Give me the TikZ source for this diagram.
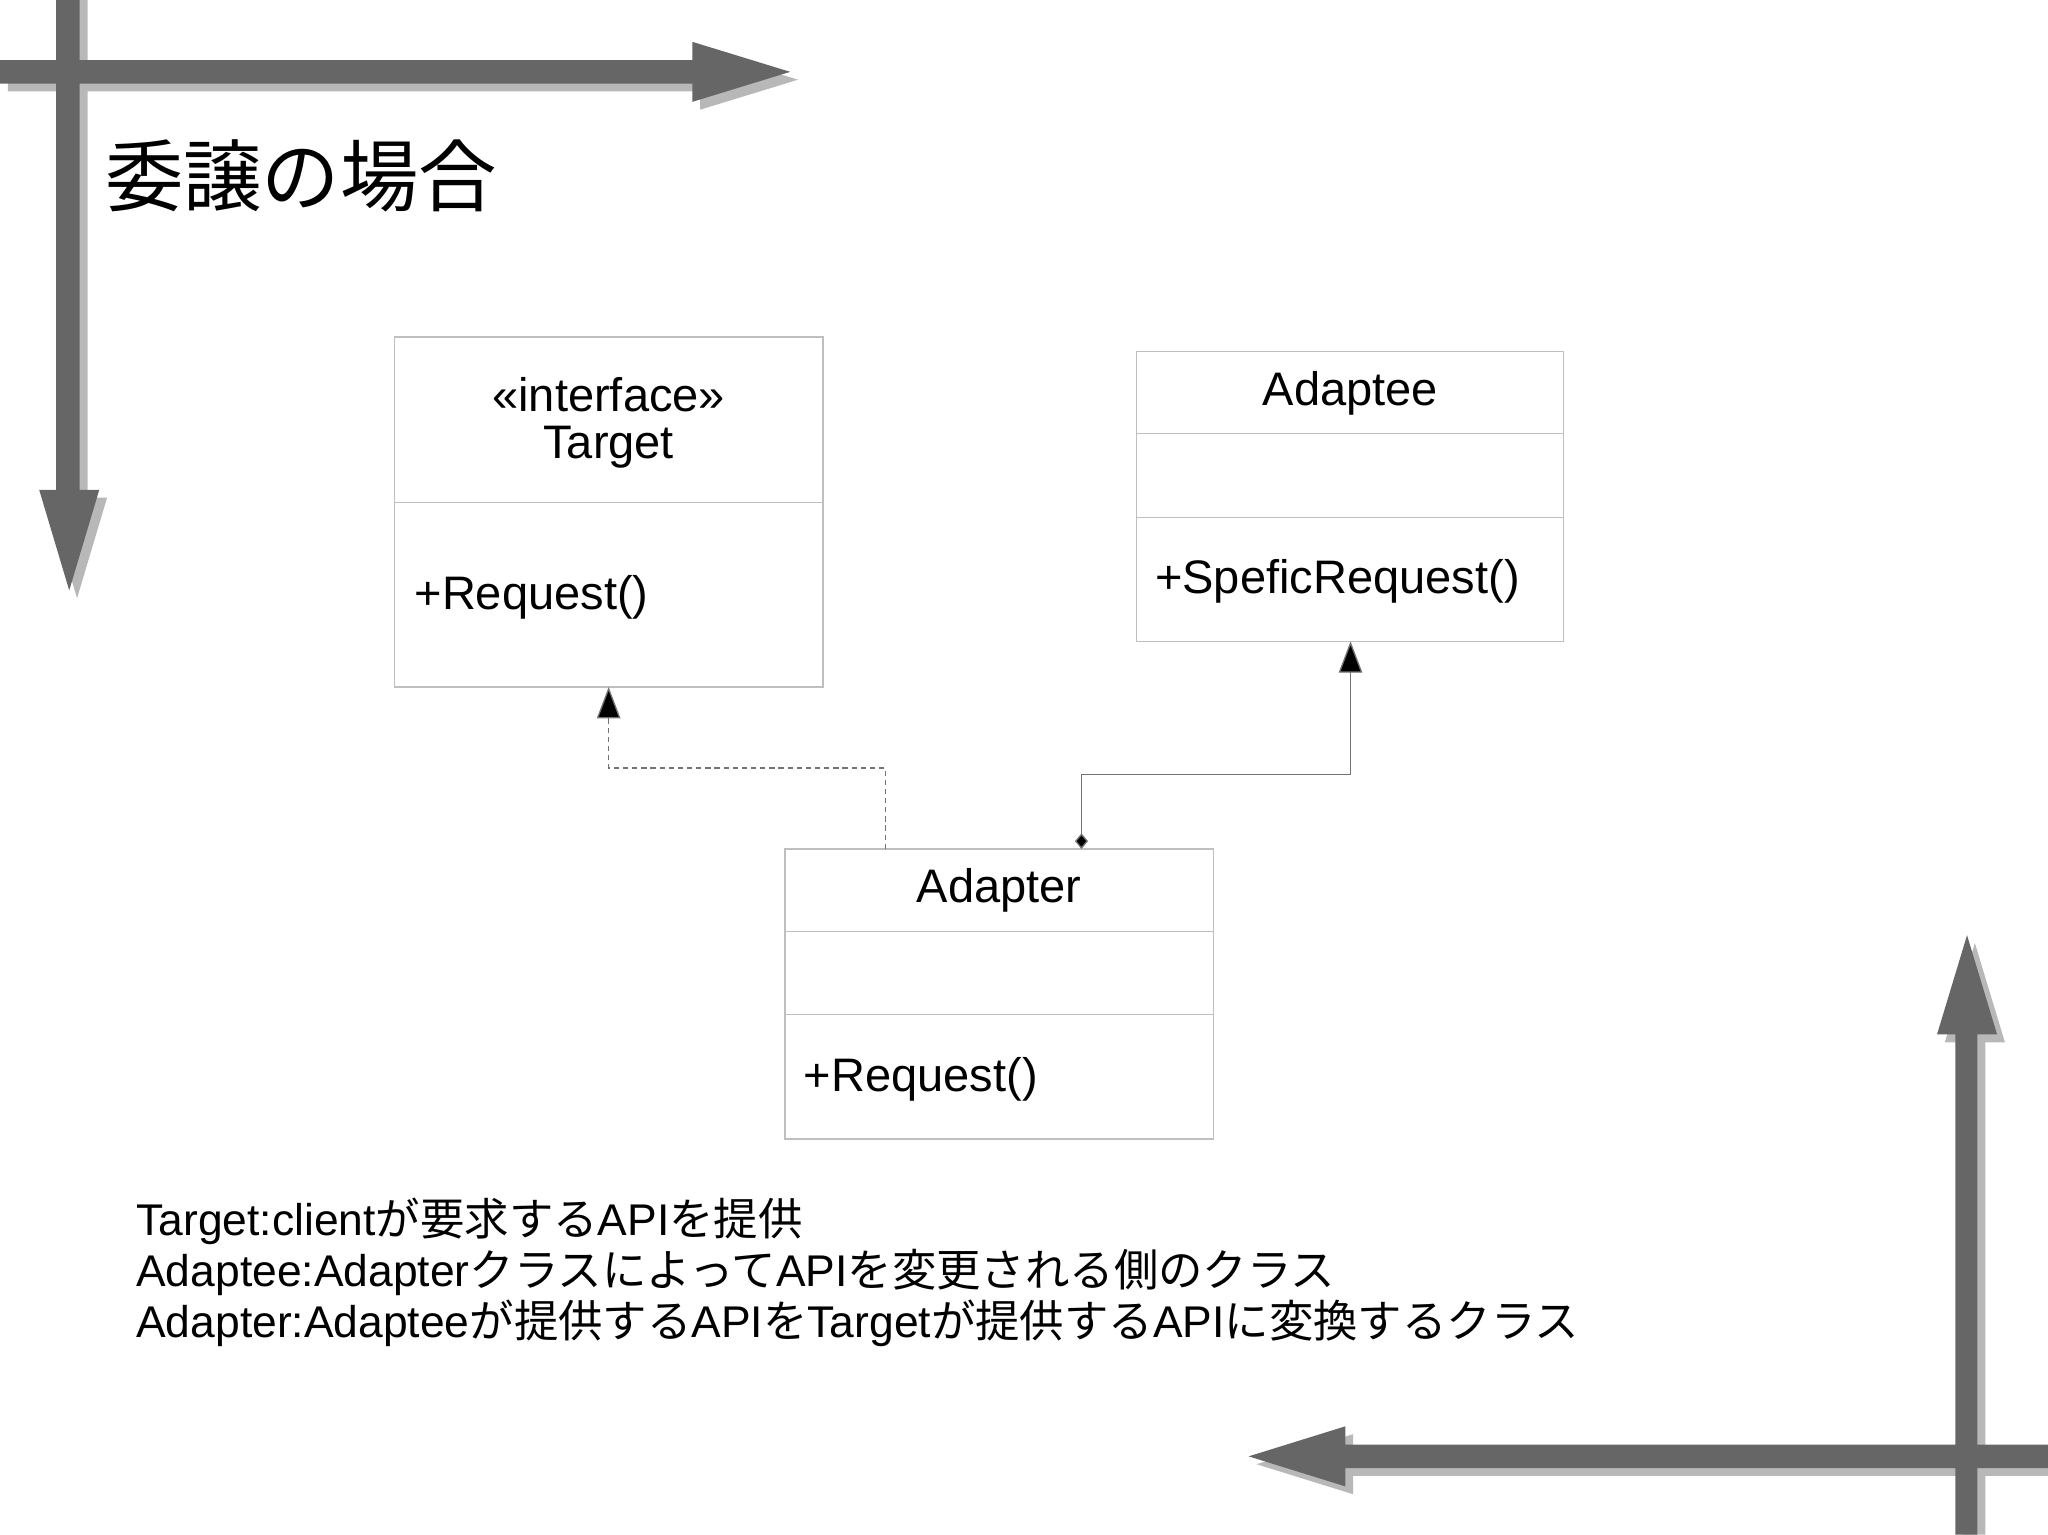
\documentclass[tikz,border=0pt]{standalone}
\usepackage{fontspec}
\setmainfont{Liberation Sans}
\newfontfamily\cjk{Noto Sans CJK JP}
\usetikzlibrary{arrows.meta}
\newcommand{\J}[1]{{\cjk #1}}
\begin{document}
\begin{tikzpicture}[x=0.5pt,y=-0.5pt,
  bar/.style={fill=#1,draw=none},
  cls/.style={draw=black!25,line width=0.6pt,fill=white},
  conn/.style={draw=black!55,line width=0.5pt},
  lbl/.style={font=\fontsize{18}{21}\selectfont,inner sep=0pt},
  note/.style={font=\fontsize{17}{19.5}\selectfont,inner sep=0pt,anchor=north west,align=left}]
\useasboundingbox (0,0) rectangle (1568,1175);
% decorative arrows: shadow then main
\foreach \c/\d in {black!28/6,black!60/0}{
  \fill[\c] (0+\d,46+\d) -- (530+\d,46+\d) -- (530+\d,32+\d) -- (605+\d,55+\d) -- (530+\d,78+\d) -- (530+\d,64+\d) -- (0+\d,64+\d) -- cycle;
  \fill[\c] (43+\d,0) -- (61+\d,0) -- (61+\d,375+\d) -- (76+\d,375+\d) -- (53+\d,452+\d) -- (30+\d,375+\d) -- (43+\d,375+\d) -- cycle;
  \fill[\c] (1497+\d,1175) -- (1514+\d,1175) -- (1514+\d,792+\d) -- (1529+\d,792+\d) -- (1506+\d,716+\d) -- (1483+\d,792+\d) -- (1497+\d,792+\d) -- cycle;
  \fill[\c] (1568,1106+\d) -- (1030+\d,1106+\d) -- (1030+\d,1092+\d) -- (956+\d,1115+\d) -- (1030+\d,1138+\d) -- (1030+\d,1124+\d) -- (1568,1124+\d) -- cycle;
}
\node[anchor=west,inner sep=0pt,font=\cjk\fontsize{30}{30}\selectfont] (title) at (80,135) {委譲の場合};
% classes
\draw[cls] (302,258) rectangle (630,526); \draw[black!25] (302,385)--(630,385);
\node[lbl] (t1) at (466,302) {<<interface>>};
\node[lbl] (t2) at (466,342) {Target};
\node[lbl,anchor=west] (t3) at (317,457) {+Request()};
\coordinate (tb) at (466,526);
\draw[cls] (870,269) rectangle (1197,491); \draw[black!25] (870,332)--(1197,332) (870,396)--(1197,396);
\node[lbl] (a1) at (1034,301) {Adaptee};
\node[lbl,anchor=west] (a3) at (884,445) {+SpeficRequest()};
\coordinate (ab) at (1034,491);
\draw[cls] (601,650) rectangle (929,872); \draw[black!25] (601,713)--(929,713) (601,777)--(929,777);
\node[lbl] (d1) at (765,682) {Adapter};
\node[lbl,anchor=west] (d3) at (615,826) {+Request()};
\coordinate (d1t) at (678,650);
\coordinate (d2t) at (828,650);
% connectors
\draw[conn,dashed,dash pattern=on 2pt off 1.5pt,-{Triangle[length=12pt,width=9pt,fill=black]}] (d1t) -- (678,588) -- (466,588) -- (tb);
\draw[conn,{Diamond[length=6pt,width=5pt,fill=black]}-{Triangle[length=12pt,width=9pt,fill=black]}] (d2t) -- (828,593) -- (1034,593) -- (ab);
\node[note] (n) at (104,917) {Target:client\J{が要求する}API\J{を提供}\\
Adaptee:Adapter\J{クラスによって}API\J{を変更される側のクラス}\\
Adapter:Adaptee\J{が提供する}API\J{を}Target\J{が提供する}API\J{に変換するクラス}};
\end{tikzpicture}
\end{document}
